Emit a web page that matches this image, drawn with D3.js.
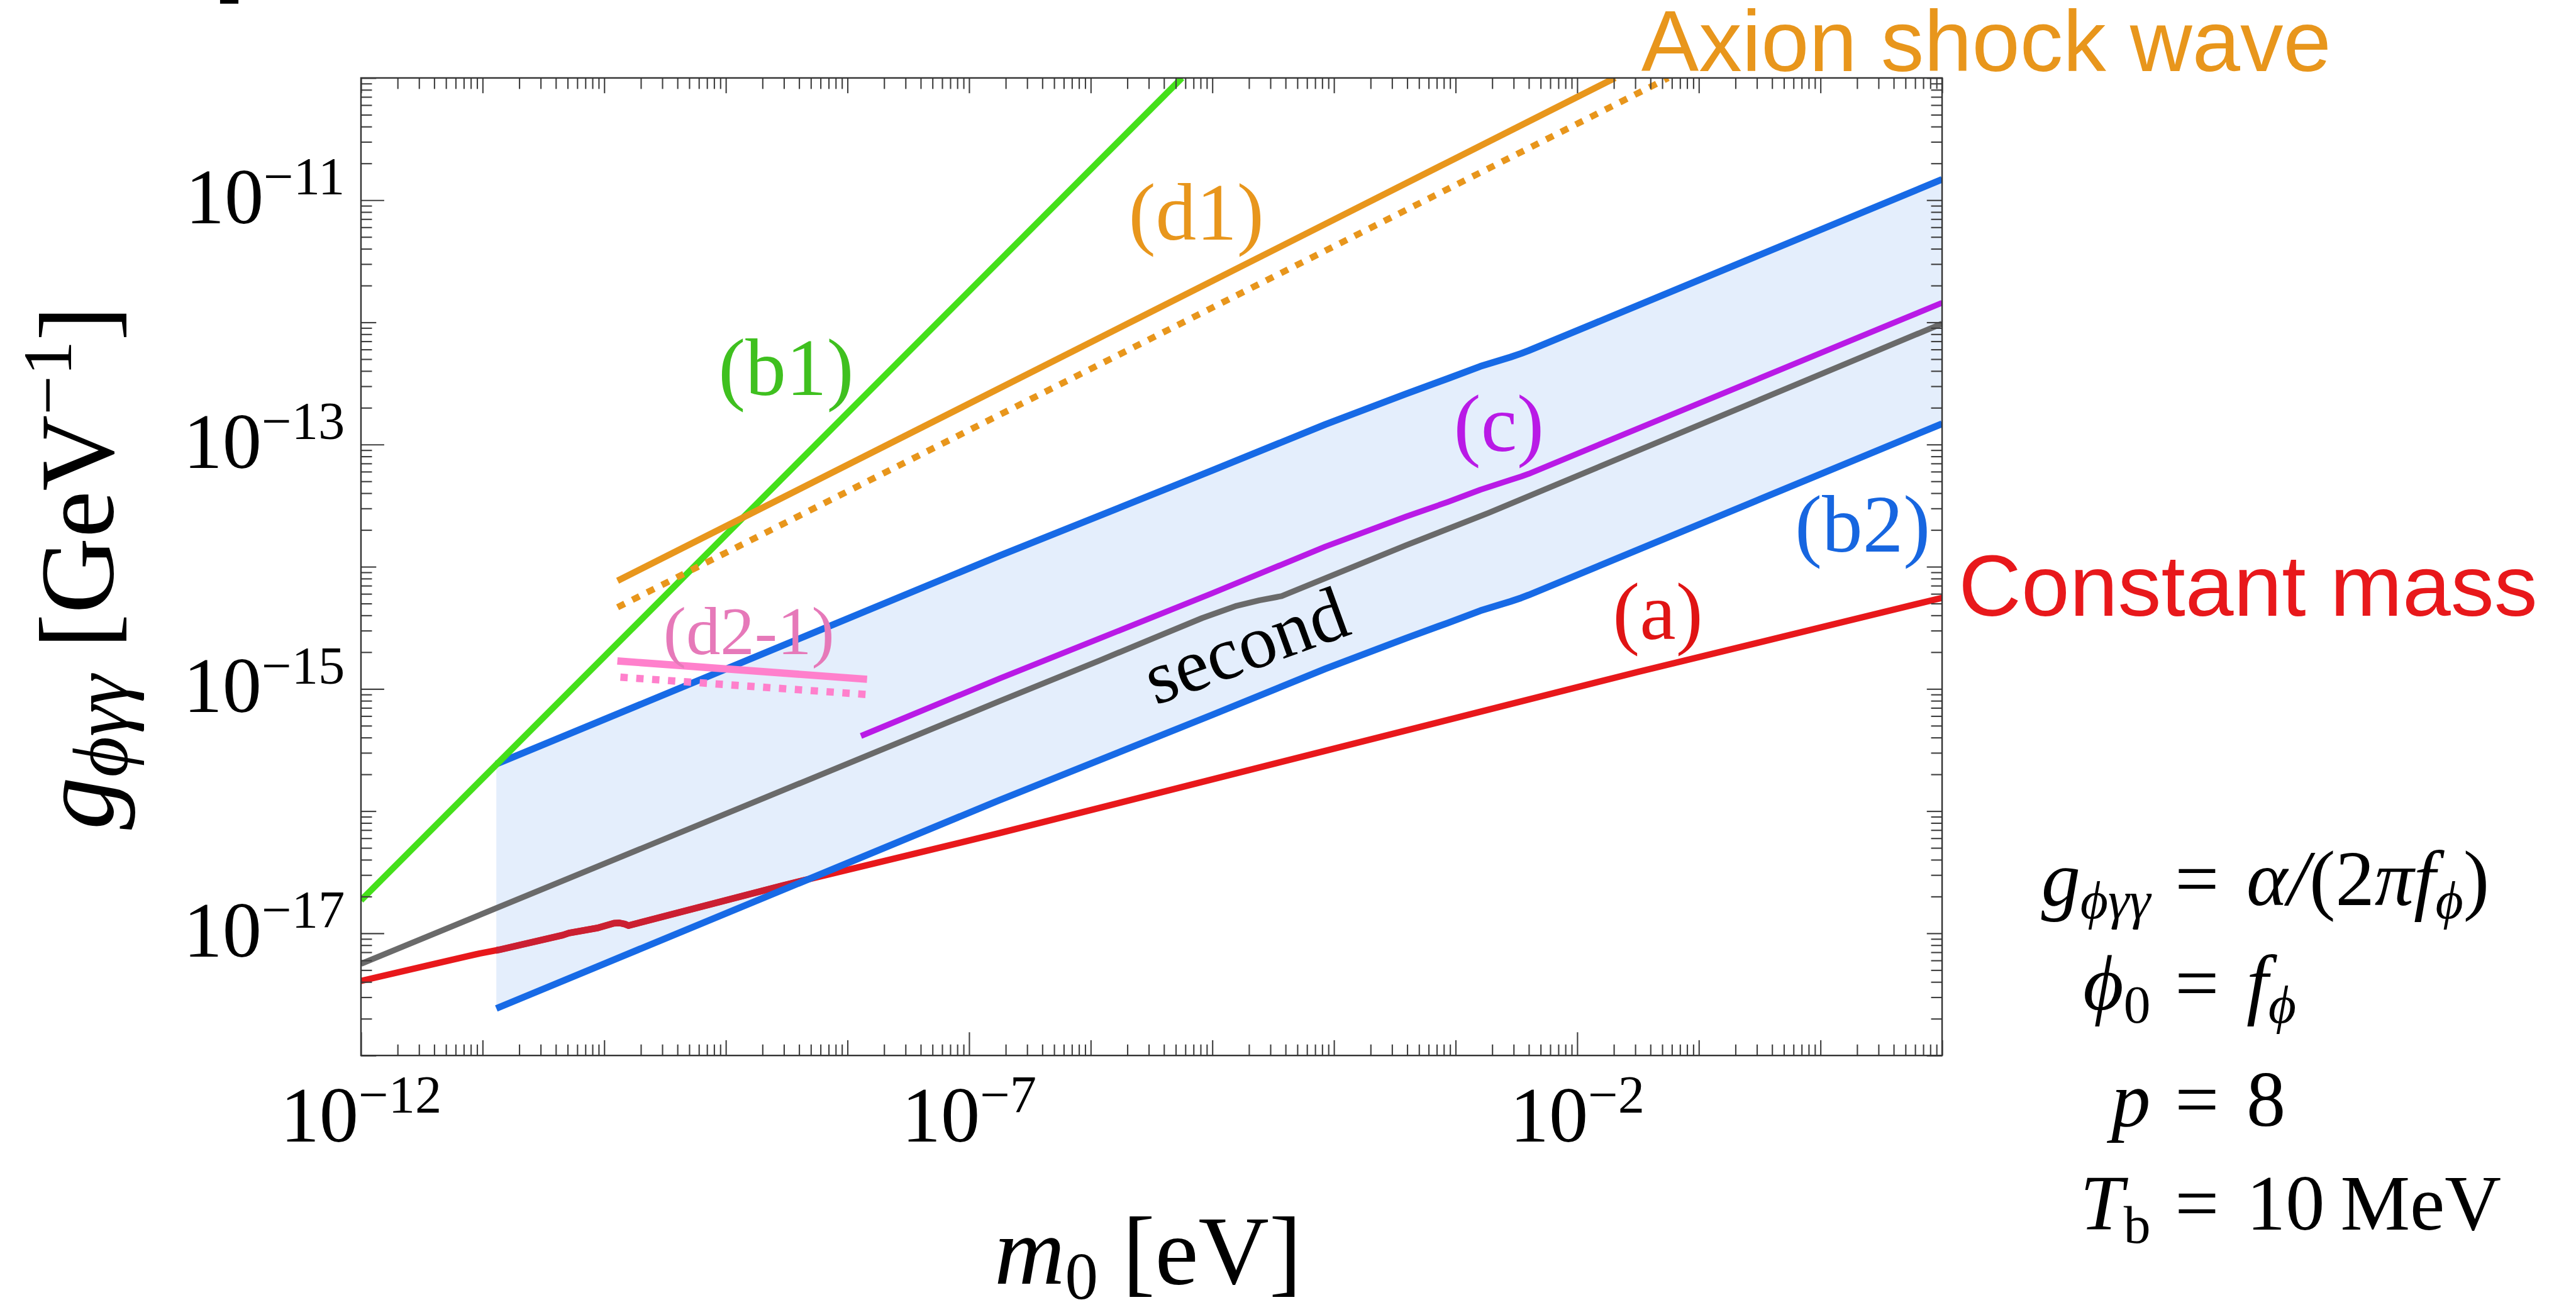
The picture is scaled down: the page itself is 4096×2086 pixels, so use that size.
<!DOCTYPE html>
<html><head><meta charset="utf-8">
<script src="https://cdn.jsdelivr.net/npm/d3@7"></script>
<style>html,body{margin:0;padding:0;background:#fff;overflow:hidden}</style>
</head><body><svg id="c" width="4096" height="2086" xmlns="http://www.w3.org/2000/svg"></svg>
<script>
// ---------------- data (log10 m0 [eV], log10 g [GeV^-1]) ----------------
const blueUpperM = [-10.887, -6.749, -5.008, -4.07, -3.408, -3.064, -2.796, -2.55, -2.461, -2.40, 1.0];
const blueUpperG = [-15.615, -13.91, -13.215, -12.835, -12.585, -12.46, -12.36, -12.285, -12.255, -12.232, -10.83];
const blueLowerM = [-10.887, -6.749, -5.008, -4.07, -3.408, -3.064, -2.796, -2.55, -2.461, -2.40, 1.0];
const blueLowerG = [-17.615, -15.91, -15.215, -14.835, -14.585, -14.46, -14.36, -14.285, -14.255, -14.232, -12.83];
const purpleM = [-7.889, -6.749, -5.008, -4.07, -3.408, -3.064, -2.796, -2.55, -2.461, -2.40, 1.0];
const purpleG = [-15.385, -14.915, -14.22, -13.835, -13.59, -13.47, -13.37, -13.29, -13.262, -13.24, -11.84];
const grayM = [-12, -6.749, -5.921, -5.083, -4.80, -4.614, -4.48, -4.43, -4.38, -3.408, -2.729, 1.0];
const grayG = [-17.25, -15.10, -14.765, -14.42, -14.32, -14.275, -14.25, -14.24, -14.22, -13.825, -13.56, -12.01];
const redM = [-12, -11.048, -10.863, -10.34, -10.29, -10.05, -9.92, -9.875, -9.83, -9.80, -8.535, -6.749, -1.497, 1.0];
const redG = [-17.39, -17.17, -17.135, -17.015, -16.998, -16.955, -16.918, -16.915, -16.925, -16.937, -16.61, -16.18, -14.86, -14.255];
const greenM = [-12, -5.25];
const greenG = [-16.73, -10.0];
const orangeM = [-9.89, -1.689];
const orangeG = [-14.115, -10.0];
const orangeDotM = [-9.89, -1.252];
const orangeDotG = [-14.332, -10.0];
const pinkM = [-9.892, -7.839];
const pinkG = [-14.771, -14.921];
const pinkDotM = [-9.867, -7.84];
const pinkDotG = [-14.904, -15.046];
const xLabelExps = [-12, -7, -2];
const yLabelExps = [-11, -13, -15, -17];
const curveLabels = ["(b1)", "(d1)", "(c)", "(b2)", "(a)", "(d2-1)", "second"];

// ---------------- layout ----------------
const k = 0.972;
const S = v => v * k;
const svg = d3.select("#c");
const L = S(590.5), R = S(3177), T = S(127.5), B = S(1726.5);
const x = d3.scaleLog().domain([1e-12, 1e1]).range([L, R]);
const y = d3.scaleLog().domain([1e-18, 1e-10]).range([B, T]);
const p10 = v => Math.pow(10, v);
const line = d3.line().x(d => x(p10(d[0]))).y(d => y(p10(d[1])));
const pts = (M, G) => d3.zip(M, G);
const serif = "'Liberation Serif', 'Times New Roman', serif";
const sans = "'Liberation Sans', Arial, sans-serif";

const defs = svg.append("defs");
defs.append("clipPath").attr("id", "plot").append("rect")
  .attr("x", L).attr("y", T).attr("width", R - L).attr("height", B - T);
const regionPts = pts(blueUpperM, blueUpperG).concat(pts(blueLowerM, blueLowerG).reverse());
const regionD = line(regionPts) + "Z";
defs.append("clipPath").attr("id", "region").append("path").attr("d", regionD);

const g = svg.append("g").attr("clip-path", "url(#plot)");
g.append("path").attr("d", regionD).attr("fill", "#E4EEFC");

function curve(parent, M, G, color, w, dash) {
  const p = parent.append("path").attr("d", line(pts(M, G)))
    .attr("fill", "none").attr("stroke", color).attr("stroke-width", S(w))
    .attr("stroke-linejoin", "round");
  if (dash) p.attr("stroke-dasharray", dash.map(S).join(",")).attr("stroke-linecap", "butt");
  return p;
}
curve(g, redM, redG, "#E8181B", 10.5);
curve(g.append("g").attr("clip-path", "url(#region)"), redM, redG, "#CB1F31", 11);
curve(g, grayM, grayG, "#6A6A6A", 9.5);
curve(g, purpleM, purpleG, "#B91AE6", 9.5);
curve(g, blueUpperM, blueUpperG, "#176AE6", 11);
curve(g, blueLowerM, blueLowerG, "#176AE6", 11);
curve(g, greenM, greenG, "#44E01A", 10.5);
curve(g, orangeM, orangeG, "#E8961C", 10.5);
curve(g, orangeDotM, orangeDotG, "#E8961C", 10.5, [13, 14]);
curve(g, pinkM, pinkG, "#FF80CC", 12);
curve(g, pinkDotM, pinkDotG, "#FF80CC", 12, [12, 14]);

// ---------------- ticks ----------------
const xMajor = d3.range(-12, 2).map(p10);
const xMinor = [];
d3.range(-12, 1).forEach(e => d3.range(2, 10).forEach(j => xMinor.push(j * p10(e))));
const yMajor = d3.range(-18, -9).map(p10);
const yMinor = [];
d3.range(-18, -10).forEach(e => d3.range(2, 10).forEach(j => yMinor.push(j * p10(e))));
const xLab = xLabelExps.map(p10), yLab = yLabelExps.map(p10);

function ticks(axisFn, scale, values, size, tr) {
  const a = axisFn(scale).tickValues(values).tickSize(-S(size)).tickFormat("");
  const gg = svg.append("g").attr("transform", tr).call(a);
  gg.select(".domain").remove();
  gg.selectAll("text").remove();
  gg.selectAll("line").attr("stroke", "#404040").attr("stroke-width", S(2.2));
}
const notLab = (arr, lab) => arr.filter(v => !lab.some(l => Math.abs(Math.log10(l) - Math.log10(v)) < 1e-6));
ticks(d3.axisBottom, x, xMinor, 18, `translate(0,${B})`);
ticks(d3.axisBottom, x, notLab(xMajor, xLab), 25, `translate(0,${B})`);
ticks(d3.axisBottom, x, xLab, 38, `translate(0,${B})`);
ticks(d3.axisTop, x, xMinor, 18, `translate(0,${T})`);
ticks(d3.axisTop, x, xMajor, 25, `translate(0,${T})`);
ticks(d3.axisLeft, y, yMinor, 18, `translate(${L},0)`);
ticks(d3.axisLeft, y, notLab(yMajor, yLab), 25, `translate(${L},0)`);
ticks(d3.axisLeft, y, yLab, 38, `translate(${L},0)`);
ticks(d3.axisRight, y, yMinor, 18, `translate(${R},0)`);
ticks(d3.axisRight, y, yMajor, 25, `translate(${R},0)`);

svg.append("rect").attr("x", L).attr("y", T).attr("width", R - L).attr("height", B - T)
  .attr("fill", "none").attr("stroke", "#333").attr("stroke-width", S(2.5));

// ---------------- tick labels ----------------
xLabelExps.forEach(e => {
  const t = svg.append("text").attr("x", x(p10(e))).attr("y", S(1867))
    .attr("text-anchor", "middle").attr("font-family", serif).attr("font-size", S(128)).attr("fill", "#000");
  t.append("tspan").text("10");
  t.append("tspan").attr("dy", -S(47)).attr("font-size", S(87)).text("\u2212" + Math.abs(e));
});
yLabelExps.forEach(e => {
  const t = svg.append("text").attr("x", S(564)).attr("y", y(p10(e)) + S(38))
    .attr("text-anchor", "end").attr("font-family", serif).attr("font-size", S(128)).attr("fill", "#000");
  t.append("tspan").text("10");
  t.append("tspan").attr("dy", -S(47)).attr("font-size", S(87)).text("\u2212" + Math.abs(e));
});

// ---------------- axis titles ----------------
{
  const t = svg.append("text").attr("transform", `translate(${S(184)},${S(1357)}) rotate(-90)`)
    .attr("text-anchor", "start").attr("font-family", serif).attr("font-size", S(172)).attr("fill", "#000");
  t.append("tspan").attr("font-style", "italic").text("g");
  t.append("tspan").attr("font-style", "italic").attr("font-size", S(128)).attr("dy", S(24)).text("\u03D5\u03B3\u03B3");
  t.append("tspan").attr("dy", -S(24)).text("\u00A0[GeV");
  t.append("tspan").attr("font-size", S(114)).attr("dy", -S(68)).text("\u22121");
  t.append("tspan").attr("dy", S(68)).text("]");
}
{
  const t = svg.append("text").attr("x", S(1878)).attr("y", S(2100))
    .attr("text-anchor", "middle").attr("font-family", serif).attr("font-size", S(160)).attr("fill", "#000");
  t.append("tspan").attr("font-style", "italic").text("m");
  t.append("tspan").attr("font-size", S(108)).attr("dy", S(24)).text("0");
  t.append("tspan").attr("dy", -S(24)).text(" [eV]");
}

// ---------------- curve labels ----------------
const labelStyle = [
  {cx: 1286, by: 646, col: "#3FC01F", fs: 133},
  {cx: 1957, by: 392, col: "#E8961C", fs: 133},
  {cx: 2452, by: 738, col: "#B91AE6", fs: 133},
  {cx: 3047, by: 902, col: "#1766E0", fs: 133},
  {cx: 2712, by: 1045, col: "#E01414", fs: 133},
  {cx: 1225, by: 1070, col: "#E679B9", fs: 112},
  {cx: 2052, by: 1095, col: "#000", fs: 124, rot: -20}
];
curveLabels.forEach((txt, i) => {
  const s = labelStyle[i];
  const t = svg.append("text").attr("text-anchor", "middle").attr("font-family", serif)
    .attr("font-size", S(s.fs)).attr("fill", s.col).text(txt);
  if (s.rot) t.attr("transform", `translate(${S(s.cx)},${S(s.by)}) rotate(${s.rot})`);
  else t.attr("x", S(s.cx)).attr("y", S(s.by));
});

svg.append("text").attr("x", S(2685)).attr("y", S(116)).attr("font-family", sans)
  .attr("font-size", S(141)).attr("fill", "#E8961C").text("Axion shock wave");
svg.append("text").attr("x", S(3204)).attr("y", S(1007)).attr("font-family", sans)
  .attr("font-size", S(142)).attr("fill", "#E8181B").text("Constant mass");

// ---------------- parameter block ----------------
const eqX = S(3594), lhsX = S(3518), rhsX = S(3675), fsE = S(128), fsSub = S(88), subDy = S(22);
function eqLine(by, lhs, rhs) {
  const yy = S(by);
  const a = svg.append("text").attr("x", lhsX).attr("y", yy).attr("text-anchor", "end")
    .attr("font-family", serif).attr("font-size", fsE).attr("fill", "#000");
  lhs(a);
  svg.append("text").attr("x", eqX).attr("y", yy).attr("text-anchor", "middle")
    .attr("font-family", serif).attr("font-size", fsE).attr("fill", "#000").text("=");
  const b = svg.append("text").attr("x", rhsX).attr("y", yy).attr("text-anchor", "start")
    .attr("font-family", serif).attr("font-size", fsE).attr("fill", "#000");
  rhs(b);
}
const it = (t, s) => t.append("tspan").attr("font-style", "italic").text(s);
const up = (t, s, dy) => { const q = t.append("tspan").text(s); if (dy) q.attr("dy", dy); return q; };
const sub = (t, s, ital) => t.append("tspan").attr("font-size", fsSub).attr("dy", subDy)
  .attr("font-style", ital ? "italic" : "normal").text(s);

eqLine(1480, t => { it(t, "g"); sub(t, "\u03D5\u03B3\u03B3", true); },
             t => { it(t, "\u03B1"); it(t, "/"); up(t, "(2"); it(t, "\u03C0f"); sub(t, "\u03D5", true); up(t, ")", -subDy); });
eqLine(1651, t => { it(t, "\u03D5"); sub(t, "0", false); },
             t => { it(t, "f"); sub(t, "\u03D5", true); });
eqLine(1842, t => { it(t, "p"); }, t => { up(t, "8"); });
eqLine(2011, t => { it(t, "T"); sub(t, "b", false); }, t => { up(t, "10\u2009MeV"); });

// small clipped mark at the top-left edge
svg.append("rect").attr("x", S(360)).attr("y", 0).attr("width", S(30)).attr("height", S(6)).attr("fill", "#000");
</script></body></html>
